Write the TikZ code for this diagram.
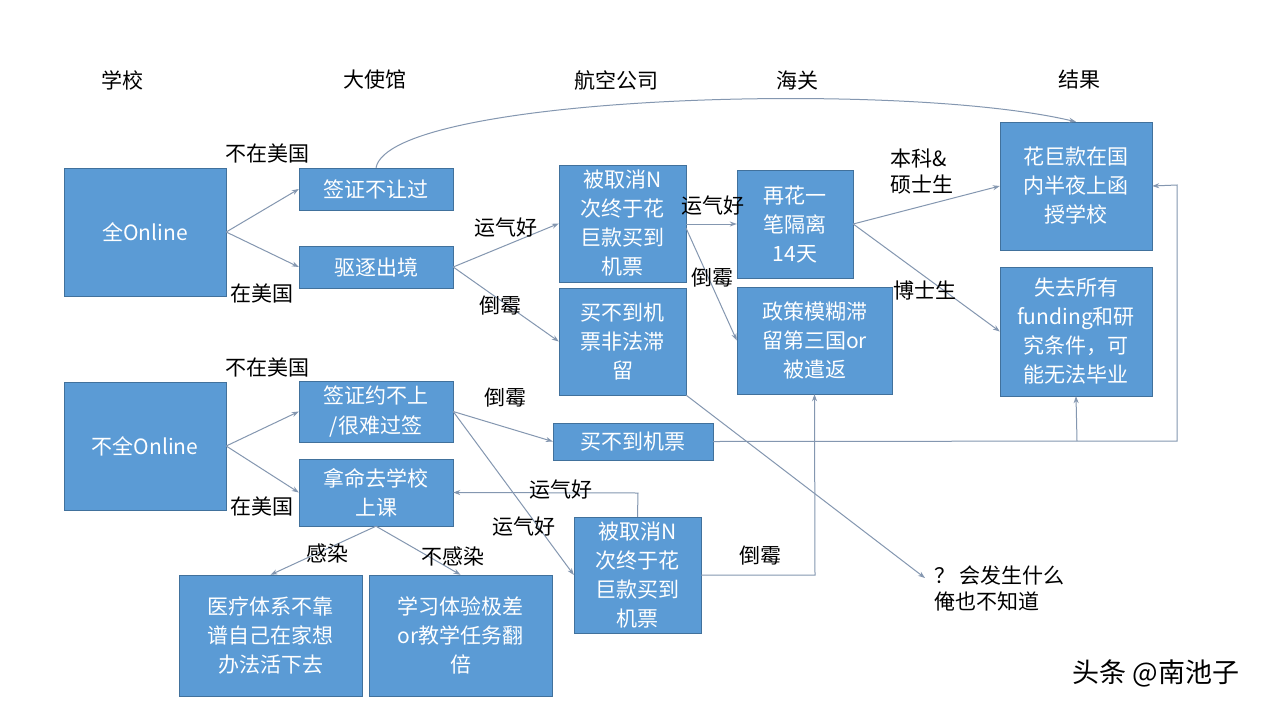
\documentclass[tikz,border=0pt]{standalone}
\usepackage{fontspec}
\setmainfont{Noto Sans CJK SC}
\usetikzlibrary{arrows.meta}
\definecolor{bx}{HTML}{5B9BD5}
\definecolor{bd}{HTML}{41719C}
\definecolor{ln}{HTML}{8497B0}
\begin{document}
\begin{tikzpicture}[x=1pt,y=-1pt,
  bxs/.style={draw=bd,fill=bx,text=white,align=center,inner sep=0pt,font=\fontsize{21}{29}\selectfont},
  lbl/.style={font=\fontsize{21}{26}\selectfont,align=left,inner sep=0pt},
  ar/.style={draw=ln,line width=1pt,-{Stealth[length=7pt,width=5pt]}}]
\useasboundingbox (0,0) rectangle (1278,710);
\fill[white] (0,0) rectangle (1278,710);
\newcommand\bbox[6]{\node[bxs,minimum width={#4-#2},minimum height={#5-#3}] (#1) at ({(#2+#4)/2},{(#3+#5)/2}) {#6};}
\bbox{A}{64}{168}{226}{296}{全Online}
\bbox{B}{64}{382}{226}{510}{不全Online}
\bbox{v1}{299}{168}{453}{210}{签证不让过}
\bbox{qz}{299}{246}{453}{288}{驱逐出境}
\bbox{v2}{299}{381}{453}{442}{签证约不上\\/很难过签}
\bbox{nm}{299}{459}{453}{526}{拿命去学校\\上课}
\bbox{bq1}{559}{165}{686}{282}{被取消N\\次终于花\\巨款买到\\机票}
\bbox{ff}{559}{288}{686}{395}{买不到机\\票非法滞\\留}
\bbox{mb}{553}{423}{713}{460}{买不到机票}
\bbox{bq2}{574}{517}{701}{633}{被取消N\\次终于花\\巨款买到\\机票}
\bbox{gl}{737}{170}{853}{278}{再花一\\笔隔离\\14天}
\bbox{zc}{737}{287}{892}{394}{政策模糊滞\\留第三国or\\被遣返}
\bbox{hj}{1000}{122}{1152}{250}{花巨款在国\\内半夜上函\\授学校}
\bbox{sq}{1000}{267}{1152}{396}{失去所有\\funding和研\\究条件，可\\能无法毕业}
\bbox{yl}{179}{575}{362}{696}{医疗体系不靠\\谱自己在家想\\办法活下去}
\bbox{xx}{369}{575}{552}{696}{学习体验极差\\or教学任务翻\\倍}
\foreach \t/\x in {学校/122,大使馆/375,航空公司/616,海关/797,结果/1079}
  \node[lbl] (h\x) at (\x,80) {\t};
\coordinate (q) at (925,578);
\node[lbl,anchor=north west] (qt) at (934,566) {？ 会发生什么\\俺也不知道};
\node[font=\fontsize{27}{30}\selectfont,inner sep=0pt] (wm) at (1156,673) {头条 @南池子};
% edges
\draw[ar] (A.east) -- (v1.west);
\node[lbl] (l1) at (267,153) {不在美国};
\draw[ar] (A.east) -- (qz.west);
\node[lbl] (l2) at (262,293) {在美国};
\draw[ar] (v1.north) .. controls (390,95) and (900,80) .. (hj.north);
\draw[ar] (qz.east) -- (bq1.west);
\node[lbl] (l3) at (506,228) {运气好};
\draw[ar] (qz.east) -- (ff.west);
\node[lbl] (l4) at (500,306) {倒霉};
\draw[ar] (686,224) -- (gl.west);
\node[lbl] (l5) at (713,206) {运气好};
\draw[ar] (686,228) -- (zc.west);
\node[lbl] (l6) at (712,278) {倒霉};
\draw[ar] (gl.east) -- (hj.west);
\node[lbl] (l7) at (922,172) {本科\&\\硕士生};
\draw[ar] (gl.east) -- (sq.west);
\node[lbl] (l8) at (925,290) {博士生};
\draw[ar] (ff.south east) -- (q);
\draw[ar] (B.east) -- (v2.west);
\node[lbl] (l9) at (267,367) {不在美国};
\draw[ar] (B.east) -- (nm.west);
\node[lbl] (l10) at (262,506) {在美国};
\draw[ar] (v2.east) -- (mb.west);
\node[lbl] (l11) at (505,398) {倒霉};
\draw[ar] (v2.east) -- (bq2.west);
\node[lbl] (l12) at (524,527) {运气好};
\draw[ar] (bq2.north) -- (638,493) -- (nm.east);
\node[lbl] (l13) at (561,490) {运气好};
\draw[ar] (bq2.east) -- (815,575) -- (zc.south);
\node[lbl] (l14) at (760,556) {倒霉};
\draw[ar] (mb.east) -- (1177,441) -- (1177,185) -- (hj.east);
\draw[ar] (1077,441) -- (sq.south);
\draw[ar] (nm.south) -- (yl.north);
\node[lbl] (l15) at (327,553) {感染};
\draw[ar] (nm.south) -- (xx.north);
\node[lbl] (l16) at (453,556) {不感染};
\end{tikzpicture}
\end{document}
